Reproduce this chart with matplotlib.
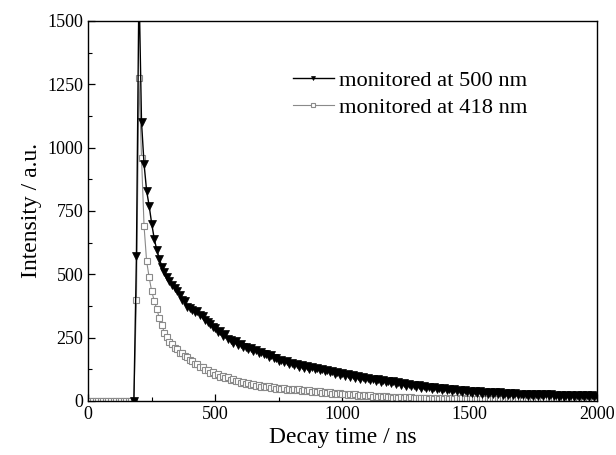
import numpy as np
import matplotlib
matplotlib.use('Agg')
import matplotlib.pyplot as plt
from matplotlib.ticker import MultipleLocator

plt.rcParams['font.family'] = ['Liberation Serif', 'DejaVu Serif']

# sampling grid (ns)
time_500 = np.arange(180, 2001, 10)
time_418 = np.arange(0, 2001, 10)

# intensity monitored at 500 nm
int_500 = [0, 570,
    1650, 1100, 935, 830, 770, 700, 640, 596, 562, 530,
    510, 488, 472, 458, 445, 432, 418, 400, 393, 372,
    368, 360, 350, 356, 338, 336, 320, 312, 302, 292,
    286, 272, 274, 256, 262, 244, 242, 230, 238, 222,
    224, 212, 214, 204, 210, 196, 200, 190, 192, 184,
    186, 174, 180, 168, 170, 158, 160, 152, 156, 146,
    150, 140, 145, 134, 140, 130, 136, 126, 132, 124,
    128, 120, 126, 116, 122, 114, 119, 108, 115, 104,
    110, 100, 106, 96, 102, 92, 98, 88, 95, 86,
    92, 82, 88, 78, 85, 76, 82, 73, 80, 70,
    78, 68, 76, 64, 72, 60, 67, 57, 64, 55,
    62, 52, 58, 50, 56, 47, 54, 45, 52, 44,
    50, 41, 48, 39, 46, 37, 44, 35, 42, 34,
    40, 32, 38, 30, 37, 29, 36, 28, 35, 27,
    34, 26, 33, 25, 32, 24, 31, 23, 30, 22,
    29, 22, 28, 21, 28, 20, 27, 19, 27, 18,
    26, 19, 26, 18, 25, 17, 25, 17, 24, 16,
    24, 17, 24, 16, 23, 16, 23, 15, 22, 16,
    21]

# intensity monitored at 418 nm
int_418 = [0] * 19 + [400,
    1275, 960, 690, 552, 488, 432, 396, 362, 328, 300,
    268, 254, 234, 224, 210, 204, 190, 188, 176, 174,
    160, 158, 146, 146, 132, 134, 122, 120, 110, 114,
    104, 106, 96, 100, 90, 94, 84, 88, 78, 80,
    72, 76, 68, 72, 64, 68, 60, 64, 56, 60,
    54, 58, 50, 54, 47, 52, 45, 50, 44, 48,
    43, 47, 41, 45, 39, 43, 37, 41, 35, 39,
    34, 38, 32, 36, 30, 34, 29, 32, 27, 30,
    26, 29, 24, 27, 22, 26, 21, 24, 20, 23,
    18, 22, 17, 20, 16, 19, 15, 18, 14, 17,
    13, 16, 12, 15, 12, 14, 11, 14, 11, 13,
    10, 13, 10, 12, 9, 12, 9, 11, 9, 11,
    8, 11, 8, 10, 8, 10, 7, 10, 7, 9,
    7, 9, 7, 9, 6, 9, 6, 8, 6, 8,
    6, 8, 6, 8, 5, 8, 5, 7, 5, 7,
    5, 7, 5, 7, 5, 7, 4, 7, 4, 6,
    4, 6, 4, 6, 4, 6, 4, 6, 3, 6,
    3, 6, 3, 5, 3, 5, 3, 5, 3, 5,
    4]

fig = plt.figure(figsize=(6.16, 4.55), dpi=100)
ax = fig.add_axes([0.143, 0.119, 0.826, 0.835])

l418, = ax.plot(time_418, int_418, color='#8a8a8a', lw=0.8, marker='s', ms=4.6,
                mfc='white', mec='#8a8a8a', mew=0.8, label='monitored at 418 nm')
l500, = ax.plot(time_500, int_500, color='black', lw=1.0, marker='v', ms=5.2,
                mfc='black', mec='black', mew=0.5, label='monitored at 500 nm')

ax.set_xlim(0, 2000)
ax.set_ylim(0, 1500)
ax.xaxis.set_major_locator(MultipleLocator(500))
ax.xaxis.set_minor_locator(MultipleLocator(250))
ax.yaxis.set_major_locator(MultipleLocator(250))
ax.yaxis.set_minor_locator(MultipleLocator(125))
ax.tick_params(which='both', direction='in', top=False, right=False, labelsize=13)
ax.tick_params(which='major', length=5, width=0.9)
ax.tick_params(which='minor', length=3, width=0.8)
for s in ax.spines.values():
    s.set_linewidth(1.0)

ax.set_xlabel('Decay time / ns', fontsize=17, labelpad=3)
ax.set_ylabel('Intensity / a.u.', fontsize=17, labelpad=4)

ax.legend(handles=[l500, l418], loc='upper left', bbox_to_anchor=(0.403, 0.871),
          frameon=False, fontsize=16.2, numpoints=1, handlelength=1.8,
          handletextpad=0.25, labelspacing=0.3, borderpad=0, borderaxespad=0,
          markerscale=0.55)

plt.savefig('out.png', dpi=100)
